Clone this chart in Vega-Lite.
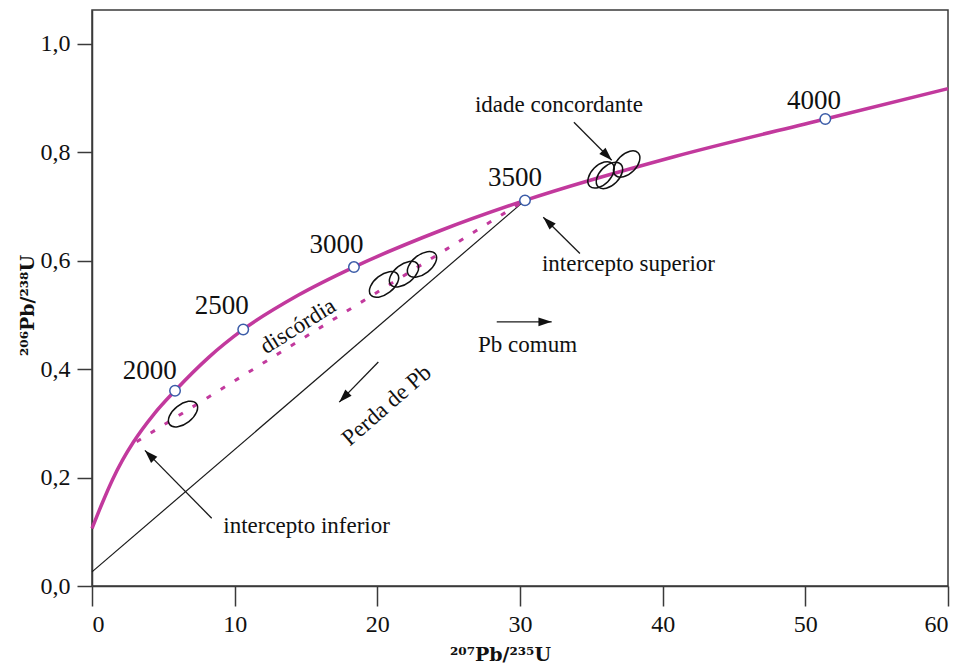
{
  "$schema": "https://vega.github.io/schema/vega-lite/v6.json",
  "width": 856,
  "height": 576,
  "autosize": {"type": "none"},
  "padding": {"left": 92, "top": 10, "right": 18, "bottom": 80},
  "background": "white",
  "config": {
    "view": {"stroke": "#3a3a3a", "strokeWidth": 1.5},
    "font": "Liberation Serif",
    "axis": {
      "grid": false,
      "domainColor": "#3a3a3a",
      "domainWidth": 1.5,
      "tickColor": "#3a3a3a",
      "tickWidth": 1.5,
      "labelFont": "Liberation Serif",
      "labelFontSize": 24,
      "labelColor": "#111111",
      "titleFont": "DejaVu Serif",
      "titleFontSize": 19,
      "titleFontWeight": "bold",
      "titleColor": "#111111"
    }
  },
  "datasets": {
    "concordia": [
      {"x": 0, "y": 0.106}, {"x": 0.736, "y": 0.154}, {"x": 1.437, "y": 0.196},
      {"x": 2.138, "y": 0.232}, {"x": 2.895, "y": 0.265}, {"x": 4.346, "y": 0.317},
      {"x": 5.82, "y": 0.360}, {"x": 8.20, "y": 0.422}, {"x": 10.60, "y": 0.473},
      {"x": 14.44, "y": 0.536}, {"x": 18.36, "y": 0.588}, {"x": 24.39, "y": 0.655},
      {"x": 30.35, "y": 0.711}, {"x": 40.86, "y": 0.792}, {"x": 51.40, "y": 0.861},
      {"x": 60, "y": 0.917}
    ],
    "idades": [
      {"idade": "2000", "x": 5.82, "y": 0.360},
      {"idade": "2500", "x": 10.60, "y": 0.473},
      {"idade": "3000", "x": 18.36, "y": 0.588},
      {"idade": "3500", "x": 30.35, "y": 0.711},
      {"idade": "4000", "x": 51.40, "y": 0.861}
    ],
    "rotulos": [
      {"idade": "2000", "x": 4.04, "y": 0.396},
      {"idade": "2500", "x": 9.09, "y": 0.516},
      {"idade": "3000", "x": 17.14, "y": 0.628},
      {"idade": "3500", "x": 29.65, "y": 0.752},
      {"idade": "4000", "x": 50.6, "y": 0.895}
    ],
    "discordia": [{"x": 3.13, "y": 0.266}, {"x": 30.35, "y": 0.711}],
    "perda": [{"x": 0, "y": 0.026}, {"x": 30.35, "y": 0.711}],
    "elipses": [
      {"grupo": "discordante", "x": 6.38, "y": 0.317},
      {"grupo": "discordante", "x": 20.47, "y": 0.556},
      {"grupo": "discordante", "x": 21.87, "y": 0.575},
      {"grupo": "discordante", "x": 23.13, "y": 0.593},
      {"grupo": "concordante", "x": 35.68, "y": 0.758},
      {"grupo": "concordante", "x": 36.27, "y": 0.757},
      {"grupo": "concordante", "x": 37.48, "y": 0.778}
    ],
    "setas": [
      {"seta": "idade concordante", "x": 33.78, "y": 0.855, "x2": 36.43, "y2": 0.785},
      {"seta": "intercepto superior", "x": 34.2, "y": 0.613, "x2": 31.63, "y2": 0.680},
      {"seta": "intercepto inferior", "x": 8.39, "y": 0.125, "x2": 3.71, "y2": 0.250},
      {"seta": "Perda de Pb", "x": 20.07, "y": 0.413, "x2": 17.33, "y2": 0.339},
      {"seta": "Pb comum", "x": 28.37, "y": 0.487, "x2": 32.22, "y2": 0.487}
    ]
  },
  "layer": [
    {
      "data": {"name": "perda"},
      "mark": {"type": "line", "color": "#1a1a1a", "strokeWidth": 1.2},
      "encoding": {
        "x": {
          "field": "x", "type": "quantitative",
          "scale": {"domain": [0, 60], "nice": false, "zero": false},
          "axis": {
            "title": "²⁰⁷Pb/²³⁵U",
            "values": [0, 10, 20, 30, 40, 50, 60],
            "labelFont": "Liberation Serif",
            "titleFont": "DejaVu Serif",
            "tickSize": 20,
            "labelPadding": 6,
            "titleX": 408,
            "titleY": 74,
            "titleAlign": "center",
            "titleBaseline": "alphabetic"
          }
        },
        "y": {
          "field": "y", "type": "quantitative",
          "scale": {"domain": [0, 1.062], "nice": false, "zero": false},
          "axis": {
            "title": "²⁰⁶Pb/²³⁸U",
            "values": [0, 0.2, 0.4, 0.6, 0.8, 1.0],
            "labelExpr": "replace(format(datum.value, '.1f'), '.', ',')",
            "labelFont": "Liberation Serif",
            "titleFont": "DejaVu Serif",
            "tickSize": 15,
            "labelPadding": 7,
            "titleX": -59,
            "titleY": 295,
            "titleAngle": 270,
            "titleAlign": "center",
            "titleBaseline": "alphabetic"
          }
        }
      }
    },
    {
      "data": {"name": "discordia"},
      "mark": {"type": "line", "color": "#c2399d", "strokeWidth": 3, "strokeDash": [5, 11.5]},
      "encoding": {
        "x": {"field": "x", "type": "quantitative"},
        "y": {"field": "y", "type": "quantitative"}
      }
    },
    {
      "data": {"name": "concordia"},
      "mark": {"type": "line", "color": "#c2399d", "strokeWidth": 3.5, "interpolate": "monotone"},
      "encoding": {
        "x": {"field": "x", "type": "quantitative"},
        "y": {"field": "y", "type": "quantitative"}
      }
    },
    {
      "data": {"name": "elipses"},
      "transform": [{"filter": "datum.grupo === 'discordante'"}],
      "mark": {
        "type": "point",
        "shape": "M -1 0 C -1 -0.309 -0.552 -0.56 0 -0.56 C 0.552 -0.56 1 -0.309 1 0 C 1 0.309 0.552 0.56 0 0.56 C -0.552 0.56 -1 0.309 -1 0 Z",
        "filled": false,
        "stroke": "#111111",
        "strokeWidth": 1.5,
        "opacity": 1,
        "size": 1156,
        "angle": -38
      },
      "encoding": {
        "x": {"field": "x", "type": "quantitative"},
        "y": {"field": "y", "type": "quantitative"}
      }
    },
    {
      "data": {"name": "elipses"},
      "transform": [{"filter": "datum.grupo === 'concordante'"}],
      "mark": {
        "type": "point",
        "shape": "M -1 0 C -1 -0.331 -0.552 -0.6 0 -0.6 C 0.552 -0.6 1 -0.331 1 0 C 1 0.331 0.552 0.6 0 0.6 C -0.552 0.6 -1 0.331 -1 0 Z",
        "filled": false,
        "stroke": "#111111",
        "strokeWidth": 1.5,
        "opacity": 1,
        "size": 1024,
        "angle": -45
      },
      "encoding": {
        "x": {"field": "x", "type": "quantitative"},
        "y": {"field": "y", "type": "quantitative"}
      }
    },
    {
      "data": {"name": "idades"},
      "mark": {"type": "point", "shape": "circle", "filled": true, "fill": "white", "stroke": "#3b5ca8", "strokeWidth": 1.5, "opacity": 1, "size": 110},
      "encoding": {
        "x": {"field": "x", "type": "quantitative"},
        "y": {"field": "y", "type": "quantitative"}
      }
    },
    {
      "data": {"name": "rotulos"},
      "mark": {"type": "text", "font": "Liberation Serif", "fontSize": 27, "color": "#111111", "align": "center", "baseline": "middle"},
      "encoding": {
        "x": {"field": "x", "type": "quantitative"},
        "y": {"field": "y", "type": "quantitative"},
        "text": {"field": "idade"}
      }
    },
    {
      "data": {"name": "setas"},
      "mark": {"type": "rule", "color": "#1a1a1a", "strokeWidth": 1.3},
      "encoding": {
        "x": {"field": "x", "type": "quantitative"},
        "y": {"field": "y", "type": "quantitative"},
        "x2": {"field": "x2"},
        "y2": {"field": "y2"}
      }
    },
    {
      "data": {"name": "setas"},
      "transform": [
        {"calculate": "atan2((datum.x2 - datum.x) * 14.267, (datum.y2 - datum.y) * 543) * 180 / PI", "as": "ang"}
      ],
      "mark": {
        "type": "point",
        "shape": "M 0 0 L 0.33 1 L -0.33 1 Z",
        "filled": true,
        "fill": "#111111",
        "strokeWidth": 0,
        "opacity": 1,
        "size": 700
      },
      "encoding": {
        "x": {"field": "x2", "type": "quantitative"},
        "y": {"field": "y2", "type": "quantitative"},
        "angle": {"field": "ang", "type": "quantitative", "scale": null}
      }
    },
    {
      "data": {"values": [
        {"texto": "idade concordante", "x": 32.73, "y": 0.886},
        {"texto": "intercepto superior", "x": 37.6, "y": 0.593},
        {"texto": "intercepto inferior", "x": 15.04, "y": 0.110},
        {"texto": "Pb comum", "x": 30.53, "y": 0.444}
      ]},
      "mark": {"type": "text", "font": "Liberation Serif", "fontSize": 23, "color": "#111111", "align": "center", "baseline": "middle"},
      "encoding": {
        "x": {"field": "x", "type": "quantitative"},
        "y": {"field": "y", "type": "quantitative"},
        "text": {"field": "texto"}
      }
    },
    {
      "data": {"values": [{"texto": "discórdia", "x": 14.44, "y": 0.479}]},
      "mark": {"type": "text", "font": "Liberation Serif", "fontSize": 23, "color": "#111111", "align": "center", "baseline": "middle", "angle": -32},
      "encoding": {
        "x": {"field": "x", "type": "quantitative"},
        "y": {"field": "y", "type": "quantitative"},
        "text": {"field": "texto"}
      }
    },
    {
      "data": {"values": [{"texto": "Perda de Pb", "x": 20.65, "y": 0.333}]},
      "mark": {"type": "text", "font": "Liberation Serif", "fontSize": 23, "color": "#111111", "align": "center", "baseline": "middle", "angle": -41},
      "encoding": {
        "x": {"field": "x", "type": "quantitative"},
        "y": {"field": "y", "type": "quantitative"},
        "text": {"field": "texto"}
      }
    }
  ]
}
